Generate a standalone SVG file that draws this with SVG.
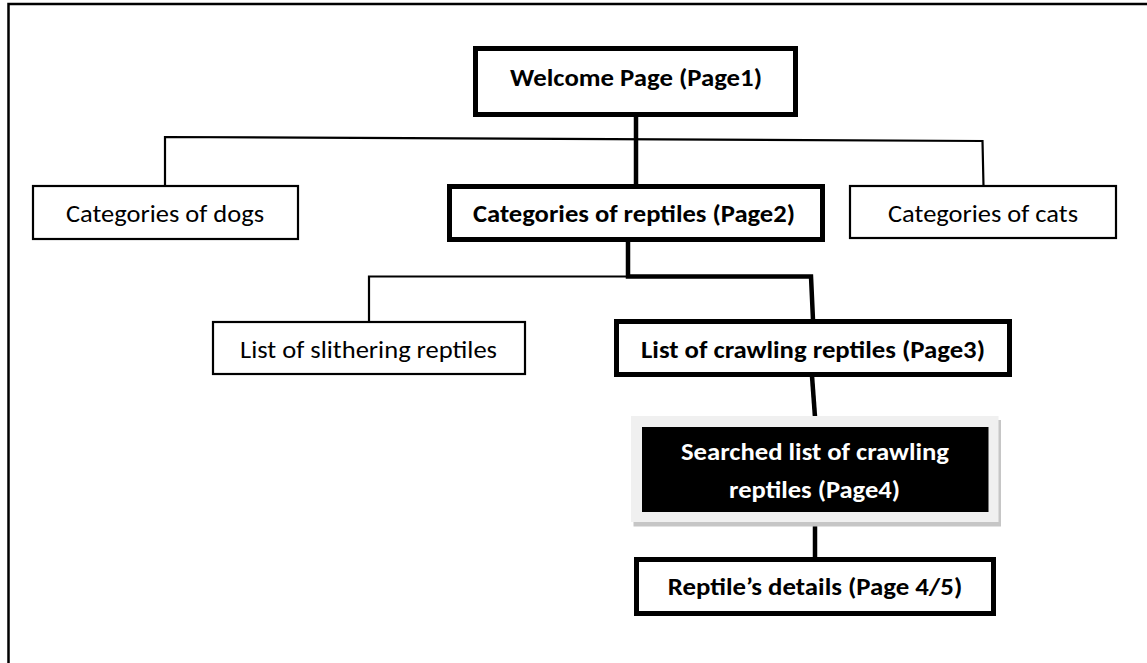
<svg xmlns="http://www.w3.org/2000/svg" width="1147" height="663" viewBox="0 0 1147 663">
  <style>
    .lbl { font-family: Carlito, Lato, "Open Sans", sans-serif; font-size: 23.5px; fill: #000; text-anchor: middle; }
    .b { font-weight: bold; }
    .w { fill: #fff; }
    .thin { fill: #fff; stroke: #000; stroke-width: 2.2; }
    .thick { fill: #fff; stroke: #000; stroke-width: 5; }
    .c1 { fill: none; stroke: #000; stroke-width: 2.2; stroke-linejoin: miter; }
    .c2 { fill: none; stroke: #000; stroke-width: 4.5; stroke-linejoin: miter; }
  </style>

  <rect width="1147" height="663" fill="#fff"/>

  <!-- page frame, open at the right and bottom -->
  <path d="M8.5,663 V4 H1147" fill="none" stroke="#000" stroke-width="2.5"/>

  <!-- connectors -->
  <g id="connectors">
    <line class="c2" x1="636" y1="116" x2="636" y2="185"/>
    <polyline class="c1" points="165,186 165,137 982.5,141 983.5,186"/>
    <polyline class="c2" points="628,241 628,276.5 811,276.5 813,320"/>
    <polyline class="c1" points="369,322 369,276.5 628,276.5"/>
    <line class="c2" x1="812" y1="376" x2="815" y2="417"/>
    <line class="c2" x1="815" y1="521" x2="815" y2="558"/>
  </g>

  <g id="welcome">
    <rect class="thick" x="475.5" y="48.5" width="320" height="66"/>
    <text class="lbl b" x="636" y="86" textLength="252" lengthAdjust="spacingAndGlyphs">Welcome Page (Page1)</text>
  </g>

  <g id="dogs">
    <rect class="thin" x="33" y="186" width="265" height="53"/>
    <text class="lbl" x="165" y="222" textLength="198" lengthAdjust="spacingAndGlyphs">Categories of dogs</text>
  </g>

  <g id="reptiles">
    <rect class="thick" x="449.5" y="186.5" width="373" height="53"/>
    <text class="lbl b" x="634" y="222" textLength="322" lengthAdjust="spacingAndGlyphs">Categories of reptiles (Page2)</text>
  </g>

  <g id="cats">
    <rect class="thin" x="850" y="186" width="266" height="52"/>
    <text class="lbl" x="983" y="222" textLength="190" lengthAdjust="spacingAndGlyphs">Categories of cats</text>
  </g>

  <g id="slithering">
    <rect class="thin" x="213" y="322" width="312" height="52"/>
    <text class="lbl" x="368.5" y="358" textLength="257" lengthAdjust="spacingAndGlyphs">List of slithering reptiles</text>
  </g>

  <g id="crawling">
    <rect class="thick" x="616.5" y="321.5" width="393" height="53"/>
    <text class="lbl b" x="813" y="358" textLength="344" lengthAdjust="spacingAndGlyphs">List of crawling reptiles (Page3)</text>
  </g>

  <g id="searched">
    <!-- drop shadow, pale mat, dark panel -->
    <rect x="633.5" y="420" width="367.5" height="106.5" fill="#c6c6c6"/>
    <rect x="631" y="416" width="367.5" height="106" fill="#f0f0f0"/>
    <rect x="642" y="427" width="346.5" height="85" fill="#000"/>
    <text class="lbl b w" x="815" y="460" textLength="268" lengthAdjust="spacingAndGlyphs">Searched list of crawling</text>
    <text class="lbl b w" x="814.5" y="497.5" textLength="171" lengthAdjust="spacingAndGlyphs">reptiles (Page4)</text>
  </g>

  <g id="details">
    <rect class="thick" x="636.5" y="559.5" width="357" height="54"/>
    <text class="lbl b" x="815" y="595" textLength="294.5" lengthAdjust="spacingAndGlyphs">Reptile’s details (Page 4/5)</text>
  </g>
</svg>
